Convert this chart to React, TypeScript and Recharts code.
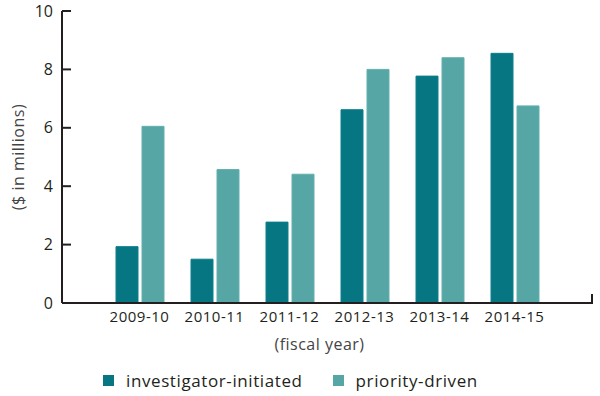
import * as Recharts from "recharts";
import { Bar, BarChart, Customized, Legend, XAxis, YAxis } from "recharts";

const years = ["2009-10", "2010-11", "2011-12", "2012-13", "2013-14", "2014-15"];
const investigatorInitiated = [1.93, 1.5, 2.77, 6.62, 7.77, 8.55];
const priorityDriven = [6.05, 4.57, 4.41, 8.0, 8.4, 6.75];
const yTicks = [0, 2, 4, 6, 8, 10];

const DARK = "#077683";
const LIGHT = "#56a6a5";
const INK = "#231f20";
const FONT = "'Open Sans', Lato, sans-serif";

const data = years.map((y, i) => ({
  year: y,
  inv: investigatorInitiated[i],
  pri: priorityDriven[i],
}));

const R: any = Recharts;

function YTick(props: any) {
  const { x, y, payload } = props;
  return (
    <g>
      <line x1={x + 8} x2={x + 17} y1={y} y2={y} stroke={INK} strokeWidth={2} />
      <text x={x - 1} y={y} dy="0.35em" textAnchor="end" fill={INK} fontSize={16} fontFamily={FONT}>
        {payload.value}
      </text>
    </g>
  );
}

function XTick(props: any) {
  const { x, y, payload } = props;
  return (
    <text
      x={x}
      y={y + 6}
      dy="0.35em"
      textAnchor="middle"
      fill={INK}
      fontSize={15}
      letterSpacing={0.5}
      fontFamily={FONT}
    >
      {payload.value}
    </text>
  );
}

function AxisEndTick() {
  const area = R.usePlotArea ? R.usePlotArea() : null;
  if (!area) return null;
  const x = area.x + area.width - 1;
  const y = area.y + area.height;
  return <line x1={x} x2={x} y1={y} y2={y - 9} stroke={INK} strokeWidth={2} />;
}

function LegendContent() {
  const items = [
    { label: "investigator-initiated", color: DARK },
    { label: "priority-driven", color: LIGHT },
  ];
  return (
    <div
      style={{
        display: "flex",
        alignItems: "center",
        fontFamily: FONT,
        fontSize: 17,
        letterSpacing: 0.6,
        color: INK,
      }}
    >
      {items.map((it) => (
        <div key={it.label} style={{ display: "flex", alignItems: "center", marginRight: 30 }}>
          <span style={{ width: 11, height: 11, background: it.color, display: "inline-block", marginRight: 12 }} />
          <span>{it.label}</span>
        </div>
      ))}
    </div>
  );
}

export default function App() {
  return (
    <div style={{ width: 600, height: 396, background: "#fff" }}>
      <style>{`body{margin:0}`}</style>
      <BarChart
        width={600}
        height={396}
        data={data}
        margin={{ top: 11, right: 7, left: 0, bottom: 0 }}
        barSize={22}
        barGap={4}
      >
        <XAxis
          dataKey="year"
          height={70}
          padding={{ left: 40, right: 41 }}
          axisLine={{ stroke: INK, strokeWidth: 2 }}
          tickLine={false}
          tick={<XTick />}
          interval={0}
          label={(p: any) => {
            const vb = p.viewBox;
            return (
              <text
                x={vb.x + vb.width / 2 - 8}
                y={vb.y + 41}
                dy="0.35em"
                textAnchor="middle"
                fill="#444"
                fontSize={16}
                letterSpacing={0.5}
                fontFamily={FONT}
              >
                (fiscal year)
              </text>
            );
          }}
        />
        <YAxis
          width={62}
          domain={[0, 10]}
          ticks={yTicks}
          axisLine={{ stroke: INK, strokeWidth: 2 }}
          tickLine={false}
          tick={<YTick />}
          label={(p: any) => {
            const vb = p.viewBox;
            const cx = 18;
            const cy = vb.y + vb.height / 2;
            return (
              <text
                x={cx}
                y={cy}
                dy="0.35em"
                textAnchor="middle"
                transform={`rotate(-90, ${cx}, ${cy})`}
                fill="#444"
                fontSize={16}
                letterSpacing={0.5}
                fontFamily={FONT}
              >
                ($ in millions)
              </text>
            );
          }}
        />
        <Bar dataKey="inv" name="investigator-initiated" fill={DARK} stroke="#0d7f8c" isAnimationActive={false} />
        <Bar dataKey="pri" name="priority-driven" fill={LIGHT} stroke="#62b0ae" isAnimationActive={false} />
        <Customized component={<AxisEndTick />} />
        <Legend
          layout="vertical"
          align="center"
          verticalAlign="bottom"
          content={<LegendContent />}
          wrapperStyle={{ position: "absolute", left: 103, top: 369, width: "auto", bottom: "auto" }}
        />
      </BarChart>
    </div>
  );
}
